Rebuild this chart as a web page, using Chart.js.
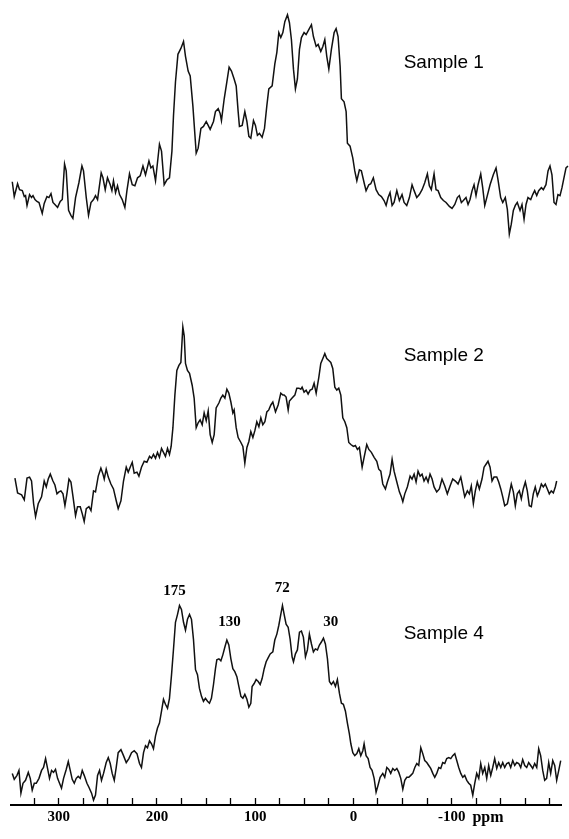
<!DOCTYPE html>
<html>
<head>
<meta charset="utf-8">
<script src="https://cdn.jsdelivr.net/npm/chart.js@4.4.1/dist/chart.umd.min.js"></script>
<style>
  html, body { margin: 0; padding: 0; background: #fff; }
  canvas { display: block; }
</style>
</head>
<body>
<canvas id="nmr" width="569" height="839"></canvas>
<script>
// 13C CP/MAS NMR spectra, chemical shift in ppm, intensity in arbitrary units

const sample1Ppm = [
  347.2, 345.2, 341.8, 339.8, 337.0, 335.0, 333.7, 332.2, 329.6, 327.6,
  326.1, 324.1, 322.1, 320.0, 316.7, 314.7, 311.9, 309.9, 307.8, 305.8,
  303.8, 301.1, 298.4, 296.3, 294.0, 292.3, 289.9, 287.5, 285.5, 282.8,
  279.4, 276.3, 274.7, 271.9, 269.6, 267.1, 264.5, 262.5, 260.4, 256.7,
  254.9, 252.6, 250.3, 247.5, 245.8, 244.2, 242.1, 240.1, 238.0, 235.3,
  232.6, 230.5, 227.9, 225.1, 222.4, 219.7, 217.0, 214.2, 211.6, 208.1,
  206.1, 204.1, 201.4, 197.4, 195.3, 192.6, 189.8, 187.2, 184.7, 183.1,
  181.1, 178.6, 175.6, 172.9, 170.9, 168.2, 166.1, 163.4, 160.0, 158.0,
  155.2, 152.6, 149.8, 147.8, 145.8, 142.4, 140.4, 137.6, 135.6, 134.3,
  131.5, 128.8, 126.5, 124.1, 121.4, 119.3, 117.3, 116.0, 113.2, 110.5,
  108.4, 106.4, 104.4, 101.7, 99.7, 97.7, 95.6, 92.9, 90.5, 88.1,
  86.1, 82.7, 80.0, 77.9, 75.9, 73.9, 71.8, 69.8, 67.1, 65.1,
  63.1, 61.0, 59.0, 57.0, 54.9, 52.9, 50.2, 48.1, 45.4, 42.7,
  40.7, 37.9, 35.9, 33.2, 31.1, 29.1, 27.1, 25.0, 22.4, 19.6,
  17.6, 15.6, 13.5, 12.2, 9.5, 7.4, 6.1, 3.4, 0.6, -1.4,
  -3.5, -6.1, -8.1, -10.9, -12.9, -15.7, -17.7, -20.3, -23.1, -25.8,
  -28.5, -31.2, -33.3, -35.3, -37.3, -39.4, -41.4, -44.2, -46.8, -49.5,
  -51.6, -54.3, -57.0, -59.7, -61.8, -64.5, -67.1, -69.9, -72.6, -75.3,
  -77.3, -79.3, -82.1, -84.1, -86.2, -88.9, -91.6, -94.3, -97.7, -100.4,
  -103.2, -105.8, -107.8, -109.9, -111.9, -114.6, -116.7, -118.7, -120.8, -122.8,
  -124.8, -126.9, -129.6, -131.6, -133.7, -136.3, -139.1, -142.4, -145.2, -147.2,
  -149.9, -152.0, -154.6, -156.7, -158.7, -160.7, -162.8, -164.8, -166.8, -169.6,
  -171.6, -173.7, -175.7, -177.7, -180.5, -182.5, -184.5, -186.6, -188.6, -191.3,
  -193.3, -196.0, -198.1, -200.1, -202.1, -204.2, -206.2, -208.2, -210.3, -212.3,
  -214.3, -216.4, -218.4
];
const sample1Intensity = [
  14, -1, 12, 6, 5, -1, 0, -10, 1, -2,
  0, -4, -6, -7, -18, -8, -1, -2, 2, -7,
  -9, -12, -6, -4, 32, 25, -15, -20, -23, -2,
  13, 30, 25, -2, -20, -7, -4, 0, -4, 23,
  18, 6, 18, 11, 5, 15, 3, 10, 1, -4,
  -12, 5, 22, 11, 10, 18, 20, 30, 21, 35,
  28, 30, 15, 52, 45, 11, 16, 18, 45, 81,
  115, 143, 149, 156, 141, 126, 121, 91, 43, 48,
  68, 70, 75, 71, 67, 75, 85, 88, 83, 76,
  98, 115, 130, 126, 118, 111, 85, 70, 71, 85,
  75, 60, 58, 76, 71, 61, 63, 59, 68, 91,
  108, 111, 133, 145, 165, 160, 165, 176, 183, 175,
  158, 128, 108, 118, 148, 160, 165, 163, 168, 173,
  161, 151, 153, 146, 151, 158, 141, 128, 148, 165,
  169, 161, 131, 98, 95, 85, 53, 50, 38, 25,
  15, 26, 25, 13, 5, 11, 12, 18, 6, 1,
  -1, -5, -10, -2, 3, -10, -7, 5, -5, 1,
  -7, -10, -2, 11, 5, -2, 1, 6, 13, 22,
  10, 6, 22, 6, 5, -2, -5, -7, -11, -13,
  -9, -2, 0, -7, -5, -2, -9, -4, 5, 11,
  0, 11, 22, 8, -10, 0, 11, 21, 28, 16,
  -2, -7, -2, -14, -39, -29, -15, -10, -7, -15,
  -9, -24, -9, -2, -4, 1, 5, 0, 5, 8,
  6, 11, 25, 30, 21, -7, -9, 1, 0, 8,
  18, 28, 30
];

const sample2Ppm = [
  344.5, 341.8, 339.8, 337.7, 335.0, 332.2, 329.6, 327.6, 325.5, 323.5,
  320.8, 317.4, 314.7, 312.6, 310.6, 308.5, 305.8, 303.8, 301.7, 299.7,
  297.7, 295.6, 293.6, 291.6, 289.5, 287.5, 285.5, 282.8, 280.8, 278.0,
  276.0, 274.0, 271.9, 269.2, 267.1, 264.5, 262.5, 259.7, 257.0, 254.9,
  253.6, 251.6, 249.5, 246.8, 244.2, 241.4, 239.4, 236.6, 234.0, 231.2,
  229.2, 227.2, 225.1, 223.1, 220.3, 218.3, 215.7, 212.9, 210.2, 207.5,
  205.5, 203.5, 201.4, 199.4, 197.4, 195.3, 193.3, 191.3, 189.2, 187.2,
  185.5, 183.7, 181.7, 179.7, 177.6, 175.6, 173.6, 172.2, 170.9, 168.9,
  166.8, 164.1, 162.1, 160.0, 158.0, 156.0, 153.9, 151.9, 149.8, 147.8,
  145.8, 143.7, 141.7, 139.7, 136.9, 134.9, 132.9, 130.8, 128.8, 126.8,
  124.7, 122.7, 121.4, 119.3, 117.3, 114.5, 112.5, 110.5, 108.4, 106.4,
  104.4, 102.3, 100.3, 98.3, 96.2, 94.2, 92.2, 90.1, 88.1, 86.1,
  84.0, 82.0, 79.3, 76.6, 73.9, 71.8, 70.5, 68.5, 66.4, 65.1,
  62.4, 59.6, 57.6, 55.5, 53.5, 52.2, 50.2, 48.1, 46.1, 44.0,
  42.0, 40.0, 37.9, 35.2, 33.2, 31.1, 29.1, 27.1, 25.0, 23.0,
  21.0, 18.9, 16.9, 14.9, 12.8, 10.8, 8.7, 6.7, 4.7, 2.6,
  0.0, -2.0, -4.1, -6.1, -8.9, -10.9, -13.6, -15.7, -18.3, -21.1,
  -23.8, -25.8, -27.9, -29.9, -32.6, -34.6, -37.3, -39.4, -41.4, -44.2,
  -46.8, -48.8, -50.3, -52.3, -54.9, -57.7, -59.7, -61.8, -63.8, -65.8,
  -67.9, -69.9, -71.9, -74.0, -76.0, -78.0, -80.1, -82.1, -84.8, -87.5,
  -90.2, -93.0, -95.6, -98.4, -101.1, -103.8, -106.5, -109.3, -111.3, -113.3,
  -116.0, -118.0, -120.0, -122.1, -124.1, -126.1, -128.2, -130.9, -133.0, -135.0,
  -137.0, -139.1, -141.1, -143.1, -145.9, -147.9, -150.0, -152.0, -154.0, -156.7,
  -158.7, -160.7, -162.8, -164.8, -166.8, -168.9, -170.9, -172.9, -175.0, -177.0,
  -179.0, -181.1, -183.1, -185.1, -187.2, -189.2, -191.3, -193.3, -195.3, -197.4,
  -199.4, -201.4, -203.5, -205.5, -206.9
];
const sample2Intensity = [
  16, 1, 0, -1, -6, 16, 17, 13, -10, -23,
  -10, -3, 13, 7, 15, 20, 13, 9, 0, 2,
  3, 0, -12, 0, 15, 12, -2, -22, -13, -13,
  -20, -28, -15, -13, -17, 3, 2, 18, 26, 20,
  15, 25, 17, 10, 5, -7, -15, -7, 13, 27,
  22, 27, 32, 21, 22, 18, 27, 33, 32, 38,
  36, 40, 36, 42, 37, 46, 42, 38, 46, 40,
  48, 67, 100, 125, 130, 133, 169, 160, 132, 125,
  122, 110, 97, 67, 72, 75, 70, 82, 74, 84,
  60, 52, 60, 87, 92, 97, 100, 97, 106, 102,
  93, 82, 85, 67, 57, 52, 48, 31, 47, 53,
  63, 57, 64, 73, 68, 77, 70, 73, 83, 85,
  90, 93, 83, 90, 102, 100, 100, 98, 85, 94,
  97, 100, 107, 107, 106, 108, 103, 105, 101, 105,
  106, 112, 102, 118, 132, 137, 142, 137, 135, 133,
  127, 108, 105, 107, 100, 77, 73, 67, 52, 50,
  48, 49, 45, 47, 27, 37, 50, 45, 42, 37,
  33, 25, 23, 10, 5, 12, 20, 35, 23, 12,
  2, -3, -8, 0, 7, 18, 15, 20, 12, 23,
  18, 20, 13, 17, 12, 20, 15, 7, 2, 5,
  15, 8, 0, 8, 15, 13, 10, 17, 7, -3,
  3, 0, 8, -10, 3, 12, 5, 15, 27, 30,
  33, 27, 13, 17, 17, 12, 5, -3, -12, -10,
  0, 10, 2, -12, 0, 3, -5, 5, 12, 3,
  -12, -13, 0, 7, -2, 3, 10, 7, 10, 5,
  0, 3, 1, 7, 13
];

const sample4Ppm = [
  347.2, 345.2, 342.4, 340.4, 338.4, 336.3, 333.7, 330.9, 328.9, 326.9,
  324.8, 322.8, 320.0, 317.4, 315.4, 313.3, 311.3, 309.3, 307.2, 305.2,
  303.2, 301.1, 299.1, 297.1, 295.0, 292.3, 290.2, 288.2, 286.2, 284.1,
  282.1, 280.1, 278.0, 276.0, 274.0, 271.2, 269.2, 266.5, 264.5, 262.5,
  260.4, 258.4, 256.4, 254.3, 251.6, 249.5, 247.5, 245.5, 243.4, 241.4,
  239.4, 236.6, 234.0, 231.2, 228.5, 225.8, 223.1, 220.3, 217.7, 215.7,
  213.6, 211.6, 209.6, 207.5, 205.5, 203.5, 201.4, 199.4, 197.4, 195.3,
  193.3, 191.3, 189.2, 187.2, 185.1, 183.1, 181.1, 179.0, 177.0, 175.0,
  172.9, 170.9, 168.9, 166.8, 164.8, 162.8, 160.7, 158.7, 156.7, 154.6,
  152.6, 150.6, 148.5, 146.5, 144.5, 142.4, 140.4, 139.0, 136.9, 134.9,
  132.9, 130.8, 128.8, 126.8, 124.7, 122.7, 120.7, 118.6, 116.6, 114.5,
  112.5, 110.5, 108.4, 106.4, 104.4, 103.1, 101.0, 99.0, 96.9, 94.9,
  92.9, 90.8, 88.8, 86.8, 84.7, 82.0, 80.0, 77.9, 75.9, 73.9,
  72.2, 70.5, 68.5, 66.4, 64.4, 62.4, 61.0, 59.0, 57.0, 54.9,
  52.9, 50.9, 48.8, 46.8, 44.8, 42.7, 40.7, 38.7, 36.6, 34.6,
  32.6, 30.5, 28.5, 26.4, 24.4, 22.4, 20.3, 18.3, 16.3, 14.2,
  12.2, 10.2, 8.1, 6.1, 4.1, 2.6, 0.6, -1.4, -3.5, -5.5,
  -7.5, -9.6, -10.9, -12.9, -15.0, -17.0, -19.0, -21.1, -23.1, -25.1,
  -27.2, -29.9, -31.9, -34.0, -36.0, -38.0, -40.1, -42.1, -44.2, -46.2,
  -48.2, -50.3, -52.3, -54.3, -56.4, -58.4, -60.4, -62.5, -64.5, -66.5,
  -68.6, -70.6, -72.6, -74.7, -76.7, -78.7, -80.8, -82.8, -84.8, -86.9,
  -88.9, -90.9, -93.0, -95.0, -97.1, -99.1, -101.1, -103.2, -105.2, -107.2,
  -109.3, -111.3, -113.3, -115.4, -117.4, -119.4, -121.5, -123.5, -125.5, -127.6,
  -129.6, -131.6, -133.7, -135.7, -137.7, -139.8, -141.8, -143.8, -145.9, -147.9,
  -150.0, -152.0, -154.0, -156.1, -158.1, -160.1, -162.2, -164.2, -166.2, -168.3,
  -170.3, -172.3, -174.4, -176.4, -178.4, -180.5, -182.5, -184.5, -186.6, -188.6,
  -190.6, -192.7, -194.7, -196.7, -198.8, -200.8, -202.9, -204.9, -206.9, -209.0,
  -211.0
];
const sample4Intensity = [
  -3, -9, -5, 0, -23, -13, -10, -2, -8, -20,
  -13, -13, -8, 0, 3, 12, 2, -8, 0, -2,
  1, -8, -13, -18, -8, 1, 9, 0, -9, -13,
  -8, -6, -8, 0, -5, -13, -17, -23, -30, -25,
  -5, 0, -10, -3, 8, 13, 7, -3, -10, 3,
  18, 21, 15, 8, 12, 18, 20, 17, 7, 3,
  18, 25, 23, 30, 27, 22, 35, 43, 48, 60,
  72, 67, 63, 73, 97, 123, 150, 158, 167, 163,
  150, 142, 153, 158, 153, 133, 102, 97, 83, 75,
  70, 73, 70, 68, 73, 87, 103, 112, 113, 111,
  117, 125, 132, 127, 113, 103, 100, 95, 85, 75,
  73, 77, 72, 64, 68, 85, 88, 92, 90, 87,
  93, 103, 110, 114, 118, 120, 132, 138, 147, 158,
  167, 158, 148, 145, 133, 115, 110, 118, 122, 140,
  141, 135, 115, 122, 138, 128, 120, 123, 122, 127,
  130, 134, 128, 113, 90, 87, 90, 85, 92, 78,
  68, 67, 60, 48, 37, 27, 18, 15, 17, 22,
  15, 20, 27, 15, 12, 3, 0, -8, -22, -15,
  -7, -3, -7, 3, 1, -3, 2, 0, 2, -2,
  -8, -19, -10, -7, -7, -5, -3, 3, 7, 5,
  23, 17, 10, 8, 5, 2, -3, -7, -3, 3,
  2, 8, 7, 12, 13, 12, 15, 17, 10, 3,
  -3, -7, -5, -10, -13, -15, -25, -13, -3, -8,
  7, -3, 3, -8, 5, -5, 3, 12, 2, 8,
  3, 8, 3, 7, 8, 3, 10, 5, 8, 7,
  3, 11, 5, 3, 8, 5, 2, 7, 3, 22,
  15, 0, -10, -8, 8, -3, 10, 5, -10, 0,
  10
];

const sampleNames = ['Sample 1', 'Sample 2', 'Sample 4'];
const peakShifts = [175, 130, 72, 30];          // assigned peaks of Sample 4, ppm
const labelledTicks = [300, 200, 100, 0, -100]; // ppm values printed on the axis

function points(ppm, intensity) {
  return ppm.map((p, i) => ({ x: p, y: intensity[i] }));
}

const SERIF = '"Liberation Serif", "Times New Roman", serif';
const SANS = '"Liberation Sans", Arial, sans-serif';

// Text drawn in data coordinates of the scales
const textMarks = {
  id: 'textMarks',
  afterDatasetsDraw(chart, args, opts) {
    const ctx = chart.ctx;
    const xs = chart.scales.x;
    ctx.save();
    ctx.fillStyle = '#000';
    ctx.textAlign = 'center';
    opts.items.forEach(it => {
      ctx.font = it.font;
      ctx.textBaseline = it.baseline || 'middle';
      ctx.fillText(it.text, xs.getPixelForValue(it.x), chart.scales[it.axis].getPixelForValue(it.y));
    });
    ctx.restore();
  }
};

const traceStyle = {
  borderColor: '#111',
  borderWidth: 1.5,
  pointRadius: 0,
  tension: 0,
  fill: false,
  clip: false
};

new Chart(document.getElementById('nmr'), {
  type: 'line',
  data: {
    datasets: [
      Object.assign({ label: sampleNames[0], yAxisID: 'y1', data: points(sample1Ppm, sample1Intensity) }, traceStyle),
      Object.assign({ label: sampleNames[1], yAxisID: 'y2', data: points(sample2Ppm, sample2Intensity) }, traceStyle),
      Object.assign({ label: sampleNames[2], yAxisID: 'y4', data: points(sample4Ppm, sample4Intensity) }, traceStyle)
    ]
  },
  options: {
    responsive: false,
    animation: false,
    layout: { padding: { left: 11, right: 8, top: 0, bottom: 3 } },
    plugins: {
      legend: { display: false },
      tooltip: { enabled: false },
      textMarks: {
        items: [
          { text: sampleNames[0], x: -92, y: 134, axis: 'y1', font: '19px ' + SANS },
          { text: sampleNames[1], x: -92, y: 140, axis: 'y2', font: '19px ' + SANS },
          { text: sampleNames[2], x: -92, y: 138, axis: 'y4', font: '19px ' + SANS },
          { text: String(peakShifts[0]), x: 182, y: 182, axis: 'y4', font: 'bold 15px ' + SERIF },
          { text: String(peakShifts[1]), x: 126, y: 150, axis: 'y4', font: 'bold 15px ' + SERIF },
          { text: String(peakShifts[2]), x: 72.5, y: 185, axis: 'y4', font: 'bold 15px ' + SERIF },
          { text: String(peakShifts[3]), x: 23, y: 150, axis: 'y4', font: 'bold 15px ' + SERIF },
          { text: 'ppm', x: -137, y: -52, axis: 'y4', font: 'bold 16px ' + SERIF, baseline: 'alphabetic' }
        ]
      }
    },
    scales: {
      x: {
        type: 'linear',
        reverse: true,
        min: -211.3,
        max: 348.5,
        border: { display: true, color: '#000', width: 2 },
        grid: {
          drawOnChartArea: false,
          drawTicks: true,
          tickLength: -7,
          tickColor: '#000',
          tickWidth: 1.3
        },
        ticks: {
          stepSize: 25,
          includeBounds: false,
          autoSkip: false,
          maxRotation: 0,
          padding: 10,
          color: '#000',
          font: { family: SERIF, size: 15, weight: 'bold' },
          callback: v => labelledTicks.includes(v) ? String(v) : ''
        }
      },
      y1: { type: 'linear', display: false, min: -617, max: 198 },
      y2: { type: 'linear', display: false, min: -315, max: 500 },
      y4: { type: 'linear', display: false, min: -35, max: 780 }
    }
  },
  plugins: [textMarks]
});
</script>
</body>
</html>
